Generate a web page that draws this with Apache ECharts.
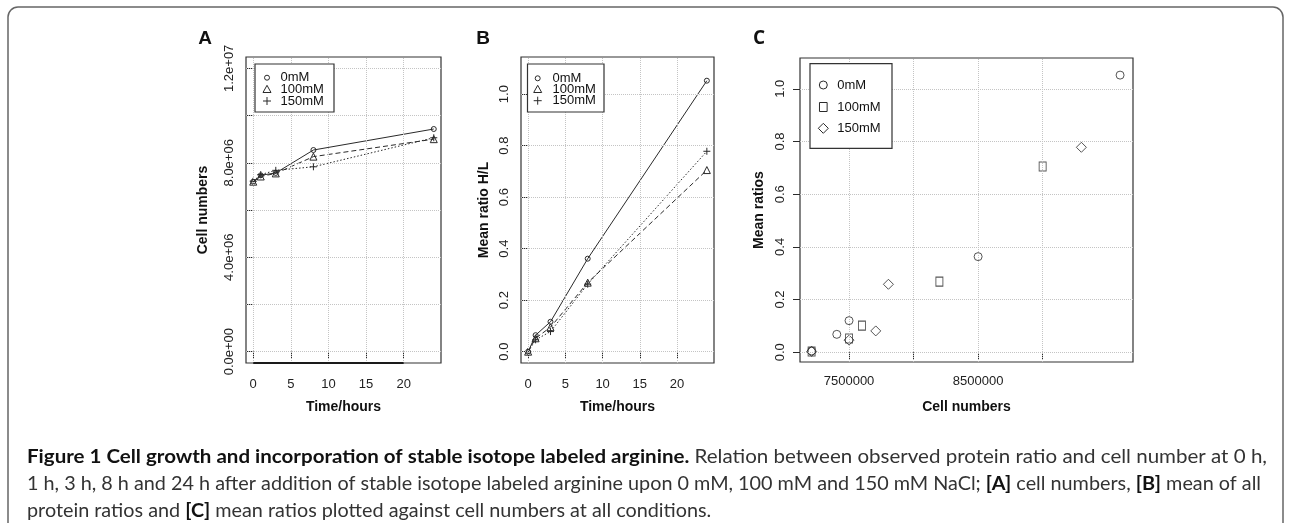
<!DOCTYPE html>
<html><head><meta charset="utf-8">
<script src="https://cdn.jsdelivr.net/npm/echarts@6/dist/echarts.min.js"></script>
<style>html,body{margin:0;padding:0;background:#fff}#c{width:1290px;height:523px}</style>
</head><body><div id="c"></div>
<script>
// ---------- data ----------
const hours = [0, 1, 3, 8, 24];
const conditions = ['0mM', '100mM', '150mM'];
// Panel A: cell numbers vs time
const cellsA_0mM   = [7.20e6, 7.47e6, 7.57e6, 8.54e6, 9.43e6];
const cellsA_100mM = [7.20e6, 7.42e6, 7.55e6, 8.26e6, 9.00e6];
const cellsA_150mM = [7.22e6, 7.50e6, 7.68e6, 7.83e6, 9.06e6];
// Panel B: mean ratio H/L vs time
const ratioB_0mM   = [0.000, 0.064, 0.116, 0.361, 1.052];
const ratioB_100mM = [0.000, 0.052, 0.095, 0.268, 0.705];
const ratioB_150mM = [0.000, 0.046, 0.078, 0.262, 0.778];
// Panel C: mean ratios vs cell numbers
const cellsC_0mM   = [7.21e6, 7.405e6, 7.50e6, 8.50e6, 9.60e6];
const ratioC_0mM   = [0.005, 0.068, 0.120, 0.363, 1.052];
const cellsC_100mM = [7.21e6, 7.50e6, 7.60e6, 8.20e6, 9.00e6];
const ratioC_100mM = [0.003, 0.052, 0.101, 0.268, 0.705];
const cellsC_150mM = [7.21e6, 7.50e6, 7.707e6, 7.805e6, 9.30e6];
const ratioC_150mM = [0.003, 0.046, 0.081, 0.258, 0.778];
// ticks and labels
const ticksTime = [0, 5, 10, 15, 20];
const labelsTime = [0, 5, 10, 15, 20];
const ticksCellsA = [0, 2e6, 4e6, 6e6, 8e6, 10e6, 12e6];
const labelsCellsA = [0, 4e6, 8e6, 12e6];
const ticksRatio = [0, 0.2, 0.4, 0.6, 0.8, 1.0];
const labelsRatio = [0, 0.2, 0.4, 0.6, 0.8, 1.0];
const ticksCellsC = [7.5e6, 8.0e6, 8.5e6, 9.0e6];
const labelsCellsC = [7.5e6, 8.5e6];
// axis ranges
const rangeTime = [-0.96, 24.96];
const rangeCellsA = [-0.48e6, 12.48e6];
const rangeRatioB = [-0.044, 1.144];
const rangeCellsC = [7.12e6, 9.70e6];
const rangeRatioC = [-0.037, 1.117];

// ---------- helpers ----------
const INK = '#2a2a2a';
const FONT = '"Liberation Sans", Arial, sans-serif';
function sciFmt(v) {
  const s = Number(v).toExponential(1).split('e');
  const sign = s[1][0];
  const d = s[1].slice(1).padStart(2, '0');
  return s[0] + 'e' + sign + d;
}
const zip = (a, b) => a.map((v, i) => [v, b[i]]);
const plusPath = 'path://M0,5L10,5M5,0L5,10';
const symStyle = { color: 'none', borderColor: INK, borderWidth: 1 };

function xAxis(grid, range, ticks, labels, fmt, margin) {
  return {
    type: 'value', gridIndex: grid, min: range[0], max: range[1],
    axisLine: { show: false },
    axisTick: { show: true, length: 7, customValues: ticks, lineStyle: { color: INK, width: 1 } },
    axisLabel: { customValues: labels, margin, fontSize: 13, fontFamily: FONT, color: '#222', formatter: fmt },
    splitLine: { show: false }
  };
}
function yAxis(grid, range, ticks, labels, fmt, margin) {
  return {
    type: 'value', gridIndex: grid, min: range[0], max: range[1],
    axisLine: { show: false },
    axisTick: { show: true, length: 7, customValues: ticks, lineStyle: { color: INK, width: 1 } },
    axisLabel: { customValues: labels, margin, rotate: 90, fontSize: 13, fontFamily: FONT, color: '#222', formatter: fmt },
    splitLine: { show: false }
  };
}
function gridLines(xs, ys) {
  return {
    silent: true, symbol: ['none', 'none'], animation: false,
    label: { show: false }, emphasis: { disabled: true },
    lineStyle: { type: 'dotted', color: '#c4c4c4', width: 1 },
    data: xs.map(v => ({ xAxis: v })).concat(ys.map(v => ({ yAxis: v })))
  };
}
// R's axis() line, drawn from first to last tick along the bottom of the box
function axisSegment(xs, yBottom) {
  return {
    silent: true, symbol: ['none', 'none'], animation: false,
    label: { show: false }, emphasis: { disabled: true },
    lineStyle: { type: 'solid', color: '#1a1a1a', width: 2.2 },
    data: [[{ coord: [xs[0], yBottom] }, { coord: [xs[xs.length - 1], yBottom] }]]
  };
}
function lineSeries(name, gi, xs, ys, symbol, size, dash, ml) {
  const s = {
    name, type: 'line', xAxisIndex: gi, yAxisIndex: gi,
    data: zip(xs, ys), symbol, symbolSize: size, showSymbol: true,
    itemStyle: symStyle,
    lineStyle: { color: INK, width: 1, type: dash },
    emphasis: { disabled: true }, animation: false, clip: false, z: 3
  };
  if (ml) s.markLine = ml;
  return s;
}
function scatterSeries(name, gi, xs, ys, symbol, size, ml) {
  const s = {
    name, type: 'scatter', xAxisIndex: gi, yAxisIndex: gi,
    data: zip(xs, ys), symbol, symbolSize: size,
    itemStyle: symStyle, emphasis: { disabled: true }, animation: false, z: 3
  };
  if (ml) s.markLine = ml;
  return s;
}

// ---------- graphic (frame, titles, legends, caption) ----------
const graphics = [];
graphics.push({ type: 'rect', shape: { x: 8, y: 7, width: 1275, height: 570, r: 10 },
  style: { fill: 'none', stroke: '#666', lineWidth: 1.5 }, z: 0, silent: true });
function txt(x, y, text, font, rot, fill) {
  graphics.push({ type: 'text', x, y, rotation: rot || 0, z: 50, silent: true,
    style: { text, font, fill: fill || '#111', align: 'center', verticalAlign: 'middle' } });
}
// panel letters
txt(205, 39, 'A', 'bold 19px ' + FONT);
txt(483, 39, 'B', 'bold 19px ' + FONT);
txt(759, 39, 'C', 'bold 19px "Open Sans", ' + FONT);
// axis titles
const TF = 'bold 14px ' + FONT;
txt(343.5, 407, 'Time/hours', TF);
txt(617.5, 407, 'Time/hours', TF);
txt(966.5, 407, 'Cell numbers', TF);
txt(203, 210, 'Cell numbers', TF, Math.PI / 2);
txt(484, 210, 'Mean ratio H/L', TF, Math.PI / 2);
txt(759, 210, 'Mean ratios', TF, Math.PI / 2);

function legendSym(kind, cx, cy, s) {
  const st = { fill: 'none', stroke: INK, lineWidth: 1 };
  const h = s / 2;
  if (kind === 'circle') graphics.push({ type: 'circle', shape: { cx, cy, r: h }, style: st, z: 51 });
  if (kind === 'triangle') graphics.push({ type: 'polygon', shape: { points: [[cx, cy - h], [cx + h, cy + h * 0.8], [cx - h, cy + h * 0.8]] }, style: st, z: 51 });
  if (kind === 'plus') {
    graphics.push({ type: 'line', shape: { x1: cx - h, y1: cy, x2: cx + h, y2: cy }, style: st, z: 51 });
    graphics.push({ type: 'line', shape: { x1: cx, y1: cy - h, x2: cx, y2: cy + h }, style: st, z: 51 });
  }
  if (kind === 'rect') graphics.push({ type: 'rect', shape: { x: cx - h * 0.85, y: cy - h, width: h * 1.7, height: h * 2 }, style: st, z: 51 });
  if (kind === 'diamond') graphics.push({ type: 'polygon', shape: { points: [[cx, cy - h], [cx + h, cy], [cx, cy + h], [cx - h, cy]] }, style: st, z: 51 });
}
function legend(x1, y1, x2, y2, symX, textX, rows, kinds, sizes) {
  graphics.push({ type: 'rect', shape: { x: x1, y: y1, width: x2 - x1, height: y2 - y1 },
    style: { fill: '#fff', stroke: '#333', lineWidth: 1.2 }, z: 49, silent: true });
  conditions.forEach((c, i) => {
    legendSym(kinds[i], symX, rows[i], sizes[i]);
    graphics.push({ type: 'text', x: textX, y: rows[i], z: 51, silent: true,
      style: { text: c, font: '13px ' + FONT, fill: '#111', align: 'left', verticalAlign: 'middle' } });
  });
}
legend(255, 64, 334, 112, 267, 280.5, [77.7, 89.3, 101], ['circle', 'triangle', 'plus'], [5, 8, 8]);
legend(527.5, 64, 604, 112, 537.7, 552.5, [78.3, 89.3, 100.7], ['circle', 'triangle', 'plus'], [5, 8, 8]);
legend(810, 63.7, 892, 148.3, 823.3, 837.3, [85, 107, 128.3], ['circle', 'rect', 'diamond'], [8, 9, 10]);

// caption
const cap1 = [['b', 'Figure 1 Cell growth and incorporation of stable isotope labeled arginine.'],
  ['n', ' Relation between observed protein ratio and cell number at 0 h,']];
const cap2 = [['n', '1 h, 3 h, 8 h and 24 h after addition of stable isotope labeled arginine upon 0 mM, 100 mM and 150 mM NaCl; '],
  ['b', '[A]'], ['n', ' cell numbers, '], ['b', '[B]'], ['n', ' mean of all']];
const cap3 = [['n', 'protein ratios and '], ['b', '[C]'], ['n', ' mean ratios plotted against cell numbers at all conditions.']];
const CAPF = 'Lato, "Open Sans", sans-serif';
const CAPSIZE = 19.5;
const mctx = document.createElement('canvas').getContext('2d');
function lineWidth(parts) {
  return parts.reduce((s, p) => {
    mctx.font = (p[0] === 'b' ? 'bold ' : '') + CAPSIZE + 'px ' + CAPF;
    return s + mctx.measureText(p[1]).width;
  }, 0);
}
const clampS = v => Math.max(0.85, Math.min(1.2, v));
const scale1 = clampS(1240 / lineWidth(cap1));
const scale2 = clampS(1234 / lineWidth(cap2));
function capLine(parts, y, sx) {
  graphics.push({ type: 'text', x: 27, y, scaleX: sx, z: 50, silent: true,
    style: { text: parts.map(p => '{' + p[0] + '|' + p[1] + '}').join(''),
      align: 'left', verticalAlign: 'middle',
      rich: {
        b: { fontFamily: CAPF, fontWeight: 'bold', fontSize: CAPSIZE, fill: '#111' },
        n: { fontFamily: CAPF, fontSize: CAPSIZE, fill: '#333' }
      } } });
}
capLine(cap1, 457, scale1);
capLine(cap2, 484, scale2);
capLine(cap3, 511, scale2);

// ---------- chart ----------
const gridCommon = { show: true, borderColor: '#333', borderWidth: 1.2, backgroundColor: 'transparent', containLabel: false };
const option = {
  animation: false,
  backgroundColor: '#fff',
  grid: [
    Object.assign({ left: 246, top: 57, width: 195, height: 306 }, gridCommon),
    Object.assign({ left: 521, top: 57, width: 193, height: 306 }, gridCommon),
    Object.assign({ left: 800, top: 58, width: 333, height: 304 }, gridCommon)
  ],
  xAxis: [
    xAxis(0, rangeTime, ticksTime, labelsTime, v => String(v), 15),
    xAxis(1, rangeTime, ticksTime, labelsTime, v => String(v), 15),
    xAxis(2, rangeCellsC, ticksCellsC, labelsCellsC, v => String(Math.round(v)), 13)
  ],
  yAxis: [
    yAxis(0, rangeCellsA, ticksCellsA, labelsCellsA, sciFmt, 10),
    yAxis(1, rangeRatioB, ticksRatio, labelsRatio, v => v.toFixed(1), 10),
    yAxis(2, rangeRatioC, ticksRatio, labelsRatio, v => v.toFixed(1), 13)
  ],
  series: [
    lineSeries('0mM', 0, hours, cellsA_0mM, 'circle', 5, 'solid', gridLines(ticksTime, ticksCellsA)),
    lineSeries('100mM', 0, hours, cellsA_100mM, 'triangle', 7, [5, 3], axisSegment(ticksTime, rangeCellsA[0])),
    lineSeries('150mM', 0, hours, cellsA_150mM, plusPath, 7, [1.5, 2]),
    lineSeries('0mM', 1, hours, ratioB_0mM, 'circle', 5, 'solid', gridLines(ticksTime, ticksRatio)),
    lineSeries('100mM', 1, hours, ratioB_100mM, 'triangle', 7, [5, 3]),
    lineSeries('150mM', 1, hours, ratioB_150mM, plusPath, 7, [1.5, 2]),
    scatterSeries('0mM', 2, cellsC_0mM, ratioC_0mM, 'circle', 8, gridLines(ticksCellsC, ticksRatio)),
    scatterSeries('100mM', 2, cellsC_100mM, ratioC_100mM, 'rect', [7, 9]),
    scatterSeries('150mM', 2, cellsC_150mM, ratioC_150mM, 'diamond', 10)
  ],
  graphic: graphics
};
const chart = echarts.init(document.getElementById('c'), null, { renderer: 'canvas' });
chart.setOption(option);
</script>
</body></html>
